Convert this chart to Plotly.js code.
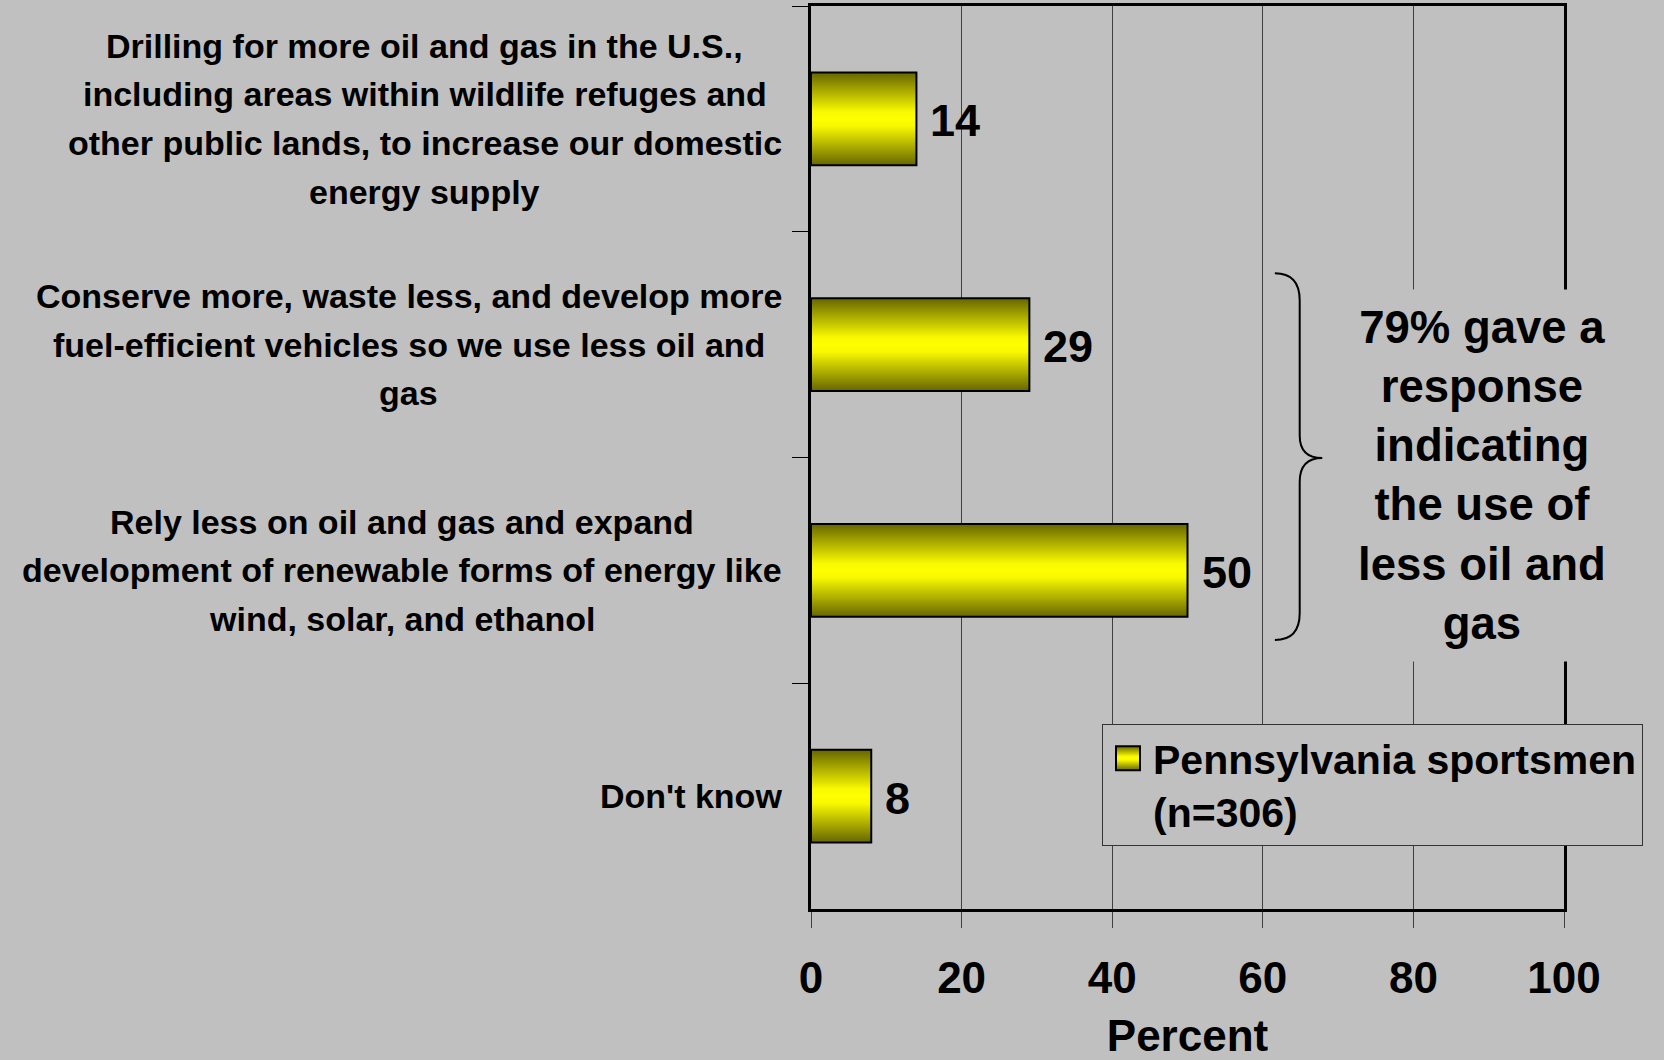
<!DOCTYPE html>
<html>
<head>
<meta charset="utf-8">
<script src="https://cdn.plot.ly/plotly-3.0.1.min.js"></script>
<style>
  html, body { margin: 0; padding: 0; background: #c0c0c0; }
  #chart { width: 1664px; height: 1060px; }
</style>
</head>
<body>
<div id="chart"></div>
<script>
// ---- data ----
const categories = [
  "Drilling for more oil and gas in the U.S.,<br>including areas within wildlife refuges and<br>other public lands, to increase our domestic<br>energy supply",
  "Conserve more, waste less, and develop more<br>fuel-efficient vehicles so we use less oil and<br>gas",
  "Rely less on oil and gas and expand<br>development of renewable forms of energy like<br>wind, solar, and ethanol",
  "Don't know"
];
const values = [14, 29, 50, 8];
const seriesName = "Pennsylvania sportsmen<br>(n=306)";
const xTickVals = [0, 20, 40, 60, 80, 100];
const xTitle = "Percent";
const noteLines = ["79% gave a", "response", "indicating", "the use of", "less oil and", "gas"];

// ---- layout constants ----
const W = 1664, H = 1060;
const M = { l: 811, r: 100, t: 6, b: 151 };
const plotW = W - M.l - M.r;
const FONT = "Liberation Sans, Arial, sans-serif";
const BG = "#c0c0c0";
const labelRightPx = 782;     // right edge of category label blocks (page px)
const labelFontSize = 34;
const labelLineGap = 48.8;

// measure text widths for centering the category label blocks
const cv = document.createElement("canvas").getContext("2d");
cv.font = "bold " + labelFontSize + "px 'Liberation Sans'";

const annotations = [];
categories.forEach((cat, i) => {
  const lines = cat.split("<br>");
  const maxW = Math.max(...lines.map(s => cv.measureText(s).width));
  const centerPx = labelRightPx - maxW / 2;
  const xPaper = (centerPx - M.l) / plotW;
  const n = lines.length;
  lines.forEach((ln, j) => {
    annotations.push({
      text: ln, xref: "paper", yref: "y", x: xPaper, y: cat,
      xanchor: "center", yanchor: "middle", showarrow: false,
      yshift: ((n - 1) / 2 - j) * labelLineGap,
      font: { family: FONT, size: labelFontSize, color: "#000", weight: "bold" }
    });
  });
});

// value labels
values.forEach((v, i) => {
  annotations.push({
    text: String(v), xref: "x", yref: "y", x: v, y: categories[i],
    xanchor: "left", yanchor: "middle", xshift: 12, yshift: -2, showarrow: false,
    font: { family: FONT, size: 45, color: "#000", weight: "bold" }
  });
});

// note text
annotations.push({
  text: noteLines.join("<br>"), xref: "paper", yref: "paper",
  x: 0.891, y: 0.4806, xanchor: "center", yanchor: "middle", showarrow: false,
  bgcolor: BG, borderpad: 12, align: "center",
  font: { family: FONT, size: 45.5, color: "#000", weight: "bold" }
});

// brace (x in percent units, y in paper units)
const bx = { end: 61.6, stem: 64.9, tip: 67.9 };
const by = { top: 0.704, topC: 0.674, midA: 0.5244, mid: 0.4994, midB: 0.4729, botC: 0.3278, bot: 0.2979 };
const bracePath =
  `M ${bx.end},${by.top} Q ${bx.stem},${by.top} ${bx.stem},${by.topC} ` +
  `L ${bx.stem},${by.midA} Q ${bx.stem},${by.mid} ${bx.tip},${by.mid} ` +
  `Q ${bx.stem},${by.mid} ${bx.stem},${by.midB} ` +
  `L ${bx.stem},${by.botC} Q ${bx.stem},${by.bot} ${bx.end},${by.bot}`;

const trace = {
  type: "bar", orientation: "h",
  x: values, y: categories, name: seriesName,
  width: 0.41,
  marker: { color: "#ffff00", line: { color: "#000", width: 2 } },
  hoverinfo: "x+y", showlegend: true
};

const layout = {
  width: W, height: H,
  margin: M,
  paper_bgcolor: BG, plot_bgcolor: BG,
  font: { family: FONT, color: "#000" },
  showlegend: true,
  legend: {
    x: (1102 - M.l) / plotW, y: (H - M.b - 724) / (H - M.t - M.b),
    xanchor: "left", yanchor: "top",
    bgcolor: BG, bordercolor: "#333", borderwidth: 1,
    valign: "top", itemwidth: 40,
    font: { family: FONT, size: 41, color: "#000", weight: "bold" }
  },
  xaxis: {
    range: [0, 100], tickvals: xTickVals, ticktext: xTickVals.map(String),
    ticks: "outside", ticklen: 16, tickcolor: "#404040", tickwidth: 1,
    showgrid: true, gridcolor: "#404040", gridwidth: 1,
    showline: true, linecolor: "#000", linewidth: 3, mirror: true,
    zeroline: false,
    tickfont: { family: FONT, size: 44, color: "#000", weight: "bold" },
    ticklabelstandoff: 12,
    title: { text: xTitle, standoff: 22, font: { family: FONT, size: 44, color: "#000", weight: "bold" } }
  },
  yaxis: {
    type: "category", autorange: "reversed",
    showticklabels: false,
    ticks: "outside", tickson: "boundaries", ticklen: 16, tickcolor: "#000", tickwidth: 1,
    showgrid: false,
    showline: true, linecolor: "#000", linewidth: 2.5, mirror: true,
    zeroline: false
  },
  annotations: annotations,
  shapes: [{
    type: "path", xref: "x", yref: "paper", path: bracePath,
    line: { color: "#000", width: 2 }, layer: "above"
  }]
};

function applyGradient() {
  const svg = document.querySelector("#chart .main-svg");
  if (!svg) return;
  const NS = "http://www.w3.org/2000/svg";
  let defs = svg.querySelector("defs");
  if (!defs) { defs = document.createElementNS(NS, "defs"); svg.insertBefore(defs, svg.firstChild); }
  if (!svg.querySelector("#barGrad")) {
    const g = document.createElementNS(NS, "linearGradient");
    g.setAttribute("id", "barGrad");
    g.setAttribute("x1", "0"); g.setAttribute("y1", "0");
    g.setAttribute("x2", "0"); g.setAttribute("y2", "1");
    [["0", "#666600"], ["0.42", "#f8f800"], ["0.5", "#ffff00"], ["0.58", "#f8f800"], ["1", "#666600"]].forEach(([o, c]) => {
      const s = document.createElementNS(NS, "stop");
      s.setAttribute("offset", o); s.setAttribute("stop-color", c);
      g.appendChild(s);
    });
    defs.appendChild(g);
  }
  document.querySelectorAll("#chart .bars path").forEach(p => { p.style.fill = "url(#barGrad)"; });
  document.querySelectorAll("#chart .legend .legendpoints path").forEach(p => {
    p.setAttribute("d", "M12,12H-12V-12H12Z");
    p.style.fill = "url(#barGrad)";
    p.style.stroke = "#000";
    p.style.strokeWidth = "2px";
  });
}

Plotly.newPlot("chart", [trace], layout, { displayModeBar: false, responsive: false })
  .then(gd => { applyGradient(); gd.on("plotly_afterplot", applyGradient); });
</script>
</body>
</html>
